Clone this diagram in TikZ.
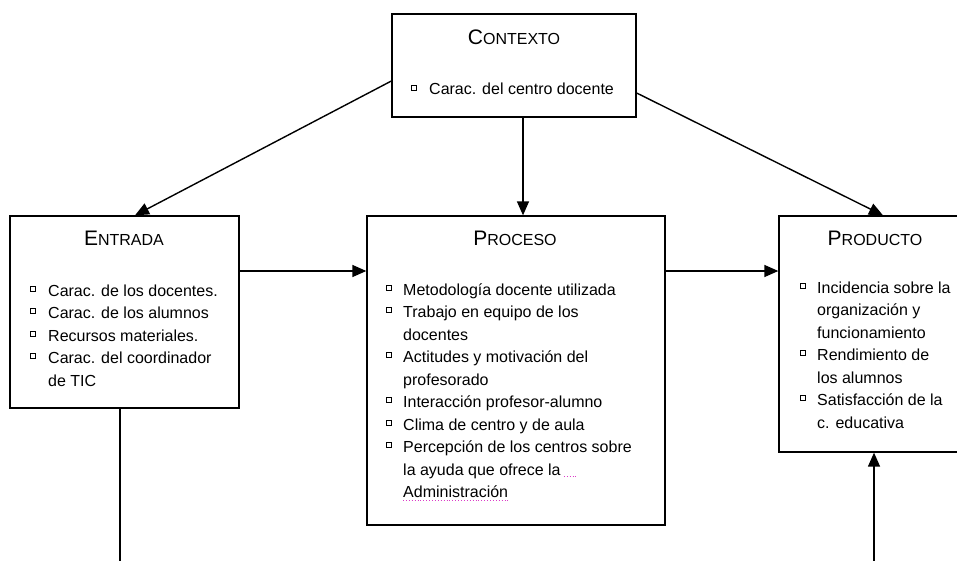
\documentclass[tikz,border=0pt]{standalone}
\usepackage{fontspec}
\setmainfont{Liberation Sans}
\usetikzlibrary{arrows.meta,calc}
\definecolor{squig}{RGB}{220,60,200}
\newcommand\smallcapstitle[2]{{\fontsize{21}{21}\selectfont #1}{\fontsize{16}{16}\selectfont #2}}
\tikzset{
  box/.style={draw, line width=1.3pt, inner sep=0pt, fill=white},
  title/.style={anchor=base, inner sep=0pt},
  itm/.style={anchor=base west, inner sep=0pt, font=\fontsize{16}{22.5}\selectfont},
  bul/.style={draw, line width=0.8pt, minimum size=5pt, inner sep=0pt},
  arr/.style={line width=1.4pt, -{Triangle[length=14pt,width=12pt]}},
  ln/.style={line width=1.4pt},
}
\begin{document}
\begin{tikzpicture}[x=1pt,y=-1pt]
\clip (0,0) rectangle (957,561);
\fill[white] (0,0) rectangle (957,561);

% boxes
\node[box, minimum width=244pt, minimum height=103pt] (ctx) at (514,65.5) {};
\node[box, minimum width=229pt, minimum height=192pt] (ent) at (124.5,312) {};
\node[box, minimum width=298pt, minimum height=309pt] (pro) at (516,370.5) {};
\node[box, minimum width=192pt, minimum height=236pt] (prd) at (875,334) {};

% titles
\node[title] (tctx) at (514,45) {\smallcapstitle{C}{ONTEXTO}};
\node[title] (tent) at (124,245) {\smallcapstitle{E}{NTRADA}};
\node[title] (tpro) at (515,245) {\smallcapstitle{P}{ROCESO}};
\node[title] (tprd) at (875,245) {\smallcapstitle{P}{RODUCTO}};

% Contexto list
\node[bul] (bc1) at (414,87.6) {};
\node[itm] (c1) at (429,95) {Carac. del centro docente};

% Entrada list
\node[bul] (be1) at (33,288.6) {};
\node[itm] (e1) at (48,296) {Carac. de los docentes.};
\node[bul] (be2) at (33,311.1) {};
\node[itm] (e2) at (48,318.5) {Carac. de los alumnos};
\node[bul] (be3) at (33,333.6) {};
\node[itm] (e3) at (48,341) {Recursos materiales.};
\node[bul] (be4) at (33,356.1) {};
\node[itm] (e4) at (48,363.5) {Carac. del coordinador};
\node[itm] (e5) at (48,386) {de TIC};

% Proceso list
\node[bul] (bp1) at (389,287.6) {};
\node[itm] (p1) at (403,295) {Metodología docente utilizada};
\node[bul] (bp2) at (389,310.1) {};
\node[itm] (p2) at (403,317.5) {Trabajo en equipo de los};
\node[itm] (p3) at (403,340) {docentes};
\node[bul] (bp4) at (389,355.1) {};
\node[itm] (p4) at (403,362.5) {Actitudes y motivación del};
\node[itm] (p5) at (403,385) {profesorado};
\node[bul] (bp6) at (389,400.1) {};
\node[itm] (p6) at (403,407.5) {Interacción profesor-alumno};
\node[bul] (bp7) at (389,422.6) {};
\node[itm] (p7) at (403,430) {Clima de centro y de aula};
\node[bul] (bp8) at (389,445.1) {};
\node[itm] (p8) at (403,452.5) {Percepción de los centros sobre};
\node[itm] (p9) at (403,475) {la ayuda que ofrece la};
\node[itm] (p10) at (403,497.5) {Administración};
\draw[squig, line width=0.9pt, dotted] ($(p9.base east)+(3,1)$) -- ++(12,0);
\draw[squig, line width=0.9pt, dotted] ($(p10.base west)+(0,3)$) -- ($(p10.base east)+(0,3)$);

% Producto list
\node[bul] (bd1) at (803,285.6) {};
\node[itm] (d1) at (817,293) {Incidencia sobre la};
\node[itm] (d2) at (817,315.5) {organización y};
\node[itm] (d3) at (817,338) {funcionamiento};
\node[bul] (bd4) at (803,353.1) {};
\node[itm] (d4) at (817,360.5) {Rendimiento de};
\node[itm] (d5) at (817,383) {los alumnos};
\node[bul] (bd6) at (803,398.1) {};
\node[itm] (d6) at (817,405.5) {Satisfacción de la};
\node[itm] (d7) at (817,428) {c. educativa};

% connector end points
\coordinate (ctxL) at (ctx.west |- 0,81);
\coordinate (ctxR) at (ctx.east |- 0,93);
\coordinate (ctxB) at (ctx.south -| 523,0);
\coordinate (entT) at (ent.north -| 135,0);
\coordinate (proT) at (pro.north -| 523,0);
\coordinate (prdT) at (prd.north -| 883,0);
\coordinate (entR) at (ent.east |- 0,271);
\coordinate (proL) at (pro.west |- 0,271);
\coordinate (proR) at (pro.east |- 0,271);
\coordinate (prdL) at (prd.west |- 0,271);
\coordinate (entB) at (ent.south -| 120,0);
\coordinate (entEnd) at (120,561);
\coordinate (prdB) at (prd.south -| 874,0);
\coordinate (prdStart) at (874,561);

% connectors
\draw[arr] (ctxL) -- (entT);
\draw[arr] (ctxB) -- (proT);
\draw[arr] (ctxR) -- (prdT);
\draw[arr] (entR) -- (proL);
\draw[arr] (proR) -- (prdL);
\draw[ln] (entB) -- (entEnd);
\draw[arr] (prdStart) -- (prdB);
\end{tikzpicture}
\end{document}
